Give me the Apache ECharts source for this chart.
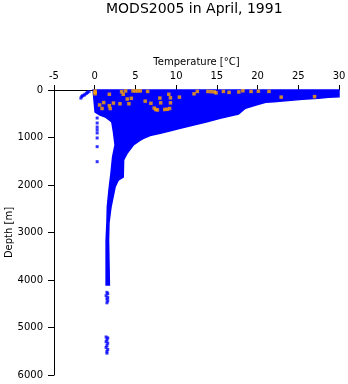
<!DOCTYPE html>
<html>
<head>
<meta charset="utf-8">
<script src="https://cdn.jsdelivr.net/npm/echarts@6/dist/echarts.min.js"></script>
<style>
html, body { margin: 0; padding: 0; background: #fff; }
#chart { width: 348px; height: 384px; }
</style>
</head>
<body>
<div id="chart"></div>
<script>
// 温度刻度
var tempTicks = [-5, 0, 5, 10, 15, 20, 25, 30];
var depthTicks = [0, 1000, 2000, 3000, 4000, 5000, 6000];

// 蓝色点群外包线（右边：最高温度，自上而下）
var rightDepth = [0, 141, 154, 175, 196, 225, 246, 259, 316, 385, 505, 596, 667, 737, 806, 857, 912, 958, 1017, 1053, 1158, 1326, 1474, 1832, 1895, 2042, 2463, 2800, 3158, 4105];
var rightTemp  = [30.0, 30.0, 28.7, 27.5, 25.5, 23.4, 22.0, 21.0, 19.8, 18.5, 17.65, 15.4, 13.8, 12.15, 10.5, 9.3, 8.05, 6.8, 6.0, 5.6, 4.75, 4.0, 3.55, 3.5, 2.9, 2.5, 2.0, 1.75, 1.7, 1.8];
// 左边：最低温度，自下而上
var leftDepth = [4105, 3158, 2800, 2463, 2105, 1747, 1410, 1158, 884, 674, 568, 526, 463, 0];
var leftTemp  = [1.4, 1.4, 1.5, 1.55, 1.75, 2.0, 2.2, 2.5, 2.3, 2.1, 1.3, 0.65, 0.05, -0.2];

// 零散的蓝色点 [温度, 深度]
var blueLone = [
    [-1.7, 170], [-1.6, 140], [-1.5, 120], [-1.3, 110], [-1.2, 90], [-1.0, 70], [-0.9, 50], [-0.7, 35],
    [0.3, 590], [0.3, 695], [0.3, 780], [0.3, 840], [0.3, 905], [0.3, 1010], [0.3, 1193], [0.3, 1509],
    [1.5, 4260], [1.6, 4290], [1.4, 4330], [1.6, 4370], [1.5, 4400], [1.6, 4440], [1.5, 4480],
    [1.4, 5200], [1.6, 5220], [1.5, 5260], [1.4, 5300], [1.6, 5330], [1.5, 5380], [1.4, 5420], [1.6, 5460], [1.5, 5500], [1.5, 5540]
];

// 橙色点 [温度, 深度]
var orangePts = [
    [0.05, 20], [0.05, 50], [0.05, 80],
    [0.6, 315], [0.9, 390], [1.1, 265], [1.8, 90], [1.8, 330], [1.9, 390], [2.3, 275],
    [3.1, 290], [3.3, 35], [3.5, 90], [3.8, 20], [4.0, 190], [4.2, 290], [4.5, 175],
    [4.7, 20], [5.0, 20], [5.3, 20], [5.6, 20], [6.2, 235], [6.5, 30], [6.9, 280],
    [7.3, 380], [7.5, 410], [7.7, 420], [8.0, 170], [8.1, 270],
    [8.6, 410], [8.9, 405], [9.2, 390], [9.1, 90], [9.3, 165], [9.3, 270], [10.4, 150],
    [12.2, 80], [12.6, 30], [13.9, 30], [14.3, 35], [14.7, 40], [14.9, 60],
    [15.8, 30], [16.5, 50], [17.7, 40], [18.2, 15], [19.2, 30], [20.1, 25], [21.4, 30],
    [22.9, 150], [27.0, 140]
];

var font = 'DejaVu Sans';
var chart = echarts.init(document.getElementById('chart'));

function renderBody(params, api) {
    var pts = [];
    for (var i = 0; i < rightDepth.length; i++) {
        pts.push(api.coord([rightTemp[i], rightDepth[i]]));
    }
    for (var j = 0; j < leftDepth.length; j++) {
        pts.push(api.coord([leftTemp[j], leftDepth[j]]));
    }
    return {
        type: 'polygon',
        shape: { points: pts },
        style: { fill: '#0000ff', stroke: '#0000ff', lineWidth: 1.5 }
    };
}

function plain(v) {
    return String(v);
}

var option = {
    backgroundColor: '#ffffff',
    animation: false,
    title: {
        text: 'MODS2005 in April, 1991',
        left: 106,
        top: 2,
        padding: 0,
        textStyle: { fontFamily: font, fontSize: 14, fontWeight: 'normal', color: '#000' }
    },
    grid: { left: 54, top: 90, width: 285, height: 285, containLabel: false, outerBoundsMode: 'none' },
    xAxis: {
        type: 'value',
        position: 'top',
        min: tempTicks[0],
        max: tempTicks[tempTicks.length - 1],
        interval: 5,
        name: 'Temperature [°C]',
        nameLocation: 'middle',
        nameGap: 23,
        nameMoveOverlap: false,
        nameTextStyle: { fontFamily: font, fontSize: 10, color: '#000' },
        axisLine: { show: true, onZero: false, lineStyle: { color: '#000', width: 1 } },
        axisTick: { show: true, length: 5, lineStyle: { color: '#000' } },
        axisLabel: { fontFamily: font, fontSize: 10, color: '#000', margin: 9, formatter: plain },
        splitLine: { show: false }
    },
    yAxis: {
        type: 'value',
        inverse: true,
        min: depthTicks[0],
        max: depthTicks[depthTicks.length - 1],
        interval: 1000,
        name: 'Depth [m]',
        nameLocation: 'middle',
        nameGap: 40,
        nameMoveOverlap: false,
        nameTextStyle: { fontFamily: font, fontSize: 10, color: '#000' },
        axisLine: { show: true, onZero: false, lineStyle: { color: '#000', width: 1 } },
        axisTick: { show: true, length: 6, lineStyle: { color: '#000' } },
        axisLabel: { fontFamily: font, fontSize: 10, color: '#000', margin: 11, formatter: plain },
        splitLine: { show: false }
    },
    series: [
        {
            type: 'custom',
            renderItem: renderBody,
            data: [[0, 0]],
            silent: true,
            z: 1
        },
        {
            type: 'scatter',
            symbol: 'rect',
            symbolSize: 3,
            itemStyle: { color: '#0000ff' },
            data: blueLone,
            z: 2
        },
        {
            type: 'scatter',
            symbol: 'rect',
            symbolSize: 3.5,
            itemStyle: { color: '#ffa500' },
            data: orangePts,
            z: 3
        }
    ]
};

chart.setOption(option);
</script>
</body>
</html>
